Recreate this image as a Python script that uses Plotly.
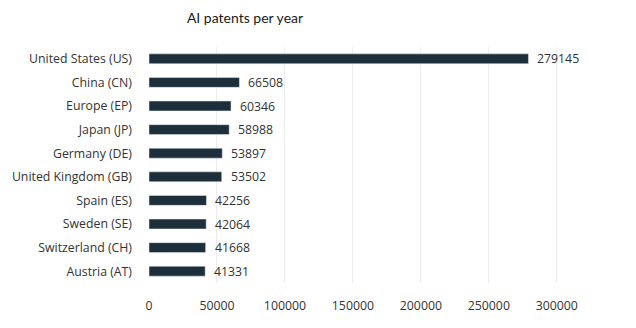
import plotly.graph_objects as go

countries = ["United States (US)", "China (CN)", "Europe (EP)", "Japan (JP)", "Germany (DE)",
             "United Kingdom (GB)", "Spain (ES)", "Sweden (SE)", "Switzerland (CH)", "Austria (AT)"]
patents = [279145, 66508, 60346, 58988, 53897, 53502, 42256, 42064, 41668, 41331]
x_ticks = [0, 50000, 100000, 150000, 200000, 250000, 300000]

FONT = "Open Sans"
fig = go.Figure(go.Bar(
    x=patents, y=countries, orientation="h",
    marker=dict(color="#1e2f3c"),
    width=0.42,
    hoverinfo="x+y",
))
for c, v in zip(countries, patents):
    fig.add_annotation(x=v, y=c, xref="x", yref="y", text=str(v), showarrow=False,
                       xanchor="left", yanchor="middle", xshift=7,
                       font=dict(size=12.3, color="#333333", family=FONT))
fig.update_layout(
    width=636, height=328,
    margin=dict(l=149, r=52, t=47, b=45),
    paper_bgcolor="white", plot_bgcolor="white",
    title=dict(text="AI patents per year", x=245/636, xanchor="center", y=1-18/328, yanchor="middle",
               font=dict(size=14, color="#1a1a1a", family="Lato")),
    font=dict(family=FONT, color="#333333", size=12.3),
    showlegend=False,
)
fig.update_xaxes(range=[0, 320000], tickvals=x_ticks, ticktext=[str(v) for v in x_ticks],
                 showgrid=True, gridcolor="#ececec", gridwidth=1, zeroline=False,
                 showline=False, ticks="", ticklabelstandoff=14, automargin=False,
                 tickfont=dict(size=12.3, color="#333333"))
fig.update_yaxes(autorange="reversed", showgrid=False, showline=False, ticks="",
                 ticklabelstandoff=16, automargin=False,
                 tickfont=dict(size=12.3, color="#333333"))
fig.write_html("out.html")
